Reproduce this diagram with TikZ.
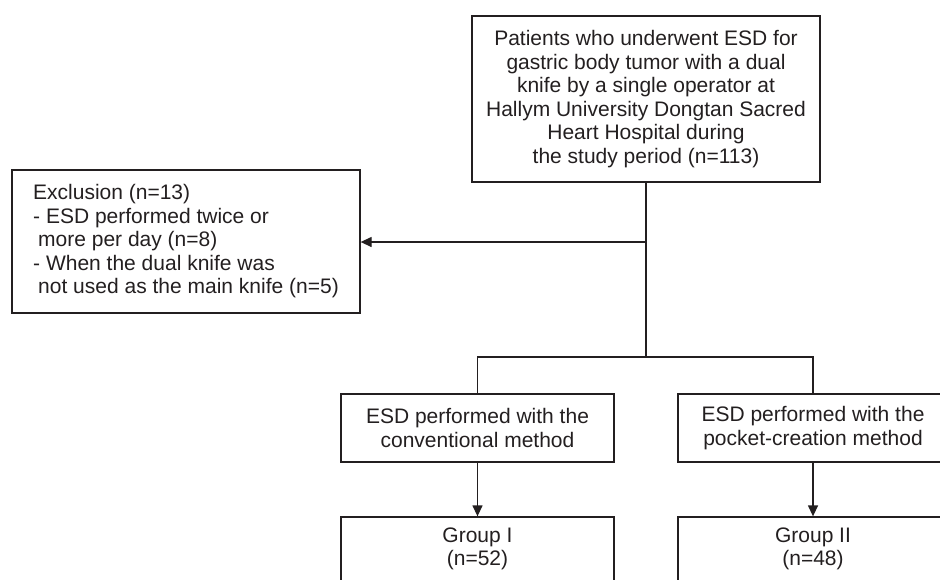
\documentclass[tikz,border=0pt]{standalone}
\usepackage{fontspec}
\setmainfont{Liberation Sans}
\usetikzlibrary{arrows.meta}
\definecolor{ink}{HTML}{231F20}
\begin{document}
\begin{tikzpicture}[x=1pt,y=-1pt,
  box/.style={draw=ink, line width=1.3pt, rectangle, inner sep=0pt, align=center,
    font=\fontsize{21pt}{23.5pt}\selectfont, text=ink},
  conn/.style={draw=ink, line width=1.3pt},
  arr/.style={conn, -{Triangle[length=11pt,width=10pt]}}]
\useasboundingbox (0,0) rectangle (940,579);
\clip (0,0) rectangle (940,579);

\node[box, minimum width=348pt, minimum height=166pt] (top) at (646,99)
  {Patients who underwent ESD for\\gastric body tumor with a dual\\knife by a single operator at\\Hallym University Dongtan Sacred\\Heart Hospital during\\the study period (n=113)};

\node[box, align=left, minimum width=348pt, minimum height=143pt] (excl) at (186,241.5)
  {Exclusion (n=13)\\- ESD performed twice or\\\hspace*{5pt}more per day (n=8)\\- When the dual knife was\\\hspace*{5pt}not used as the main knife (n=5)};

\node[box, minimum width=273pt, minimum height=68pt] (conv) at (477.5,428)
  {ESD performed with the\\conventional method};
\node[box, minimum width=270pt, minimum height=68pt] (pock) at (813,428)
  {ESD performed with the\\pocket-creation method};

\node[box, minimum width=273pt, minimum height=64pt] (g1) at (477.5,549)
  {Group I\\(n=52)};
\node[box, minimum width=270pt, minimum height=64pt] (g2) at (813,549)
  {Group II\\(n=48)};

\coordinate (j) at (646,242);
\coordinate (b) at (646,357);
\coordinate (bl) at (477.5,357);
\coordinate (br) at (813,357);

\draw[conn] (top.south) -- (b);
\draw[arr] (j) -- (excl.east |- j);
\draw[conn] (conv.north) -- (bl) -- (br) -- (pock.north);
\draw[arr] (conv.south) -- (g1.north);
\draw[arr] (pock.south) -- (g2.north);
\end{tikzpicture}
\end{document}
